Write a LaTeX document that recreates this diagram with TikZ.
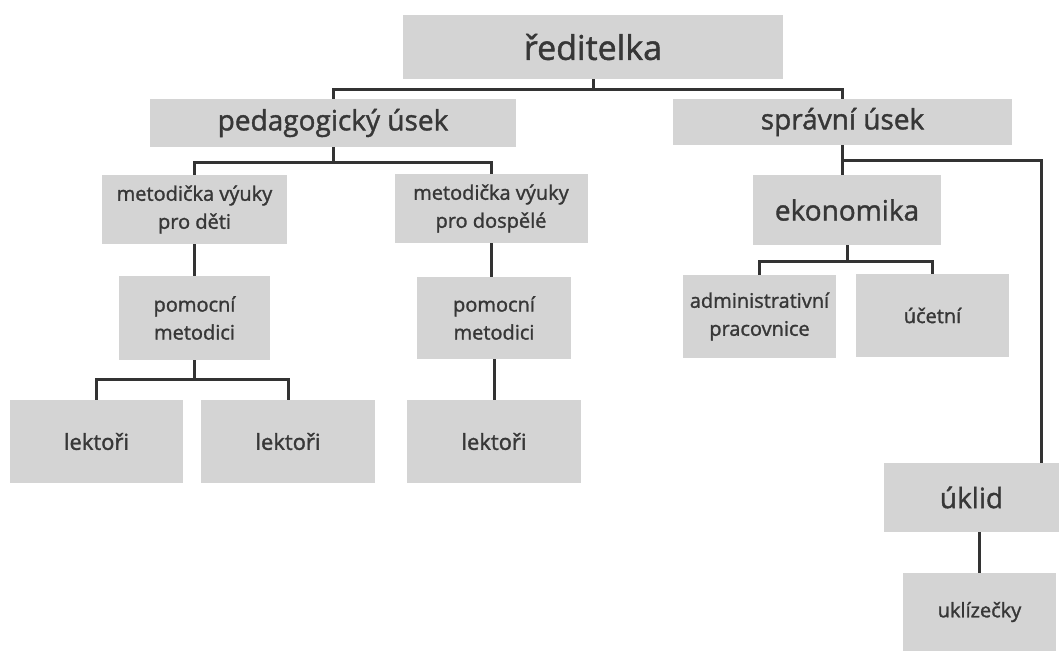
\documentclass[tikz,border=0pt]{standalone}
\usepackage{fontspec}
\setmainfont{Open Sans}[FakeBold=1.4,AutoFakeBold=1.4]
\usetikzlibrary{positioning}
\definecolor{boxgray}{RGB}{212,212,212}
\definecolor{txtgray}{RGB}{55,55,55}
\definecolor{linegray}{RGB}{51,51,51}

\begin{document}
\begin{tikzpicture}[on grid,auto,
  box/.style={rectangle,fill=boxgray,text=txtgray,align=center,inner sep=0pt},
  big/.style={font=\fontsize{34}{40}\selectfont\bfseries},
  mid/.style={font=\fontsize{28}{32}\selectfont\bfseries},
  sml/.style={font=\fontsize{20}{28}\selectfont\bfseries},
  lk/.style={font=\fontsize{22}{28}\selectfont\bfseries},
  org/.style={draw=linegray,line width=3pt}]
\useasboundingbox (0,0) rectangle (1059pt,-651pt);
\node[box,big,minimum width=380pt,minimum height=64pt](u_r) at (593pt,-47pt){ředitelka};
\node[box,mid,minimum width=366pt,minimum height=48pt](u_p)[below=76pt of u_r,xshift=-260pt]{pedagogický úsek};
\node[box,mid,minimum width=339pt,minimum height=46pt](u_s)[below=75pt of u_r,xshift=249.5pt]{správní úsek};
% pedagogicky usek
\node[box,sml,minimum width=185pt,minimum height=69pt](m_d)[below=86.5pt of u_p,xshift=-138.5pt]{metodička výuky\\pro děti};
\node[box,sml,minimum width=193pt,minimum height=69pt](m_a)[below=85.5pt of u_p,xshift=158pt]{metodička výuky\\pro dospělé};
\node[box,sml,minimum width=151pt,minimum height=84pt](pm_d)[below=108.5pt of m_d]{pomocní\\metodici};
\node[box,sml,minimum width=154pt,minimum height=82pt](pm_a)[below=109.5pt of m_a,xshift=3pt]{pomocní\\metodici};
\node[box,lk,minimum width=173pt,minimum height=83pt](l_1)[below=123.5pt of pm_d,xshift=-98pt]{lektoři};
\node[box,lk,minimum width=174pt,minimum height=83pt](l_2)[below=123.5pt of pm_d,xshift=93.5pt]{lektoři};
\node[box,lk,minimum width=174pt,minimum height=83pt](l_3)[below=123.5pt of pm_a]{lektoři};
% spravni usek
\node[box,mid,minimum width=188pt,minimum height=70pt](e_k)[below=88pt of u_s,xshift=4.5pt]{ekonomika};
\node[box,sml,minimum width=153pt,minimum height=83pt](a_p)[below=106.5pt of e_k,xshift=-87.5pt]{administrativní\\pracovnice};
\node[box,sml,minimum width=153pt,minimum height=83pt](u_c)[below=105.5pt of e_k,xshift=85.5pt]{účetní};
\node[box,mid,minimum width=175pt,minimum height=69pt](u_k)[below=375.5pt of u_s,xshift=129pt]{úklid};
\node[box,sml,minimum width=153pt,minimum height=78pt](u_z)[below=114.5pt of u_k,xshift=8pt]{uklízečky};
\draw[org] (u_r.south) -- ++(0,-10pt) -| (u_p.north);
\draw[org] (u_r.south) -- ++(0,-10pt) -| (u_s.north);
\draw[org] (u_p.south) -- ++(0,-15pt) -| (m_d.north);
\draw[org] (u_p.south) -- ++(0,-15pt) -| (m_a.north);
\draw[org] (m_d.south) -- (pm_d.north);
\draw[org] (m_a.south) -- (m_a.south |- pm_a.north);
\draw[org] (pm_d.south) -- ++(0,-19pt) -| (l_1.north);
\draw[org] (pm_d.south) -- ++(0,-19pt) -| (l_2.north);
\draw[org] (pm_a.south) -- (l_3.north);
\draw[org] (u_s.south) -- (u_s.south |- e_k.north);
\draw[org] (u_s.south) -- ++(0,-15pt) -| ([xshift=69.5pt]u_k.north);
\draw[org] (e_k.south) -- ++(0,-16pt) -| (a_p.north);
\draw[org] (e_k.south) -- ++(0,-16pt) -| (u_c.north);
\draw[org] (u_z.north) -- (u_z.north |- u_k.south);
\end{tikzpicture}
\end{document}
